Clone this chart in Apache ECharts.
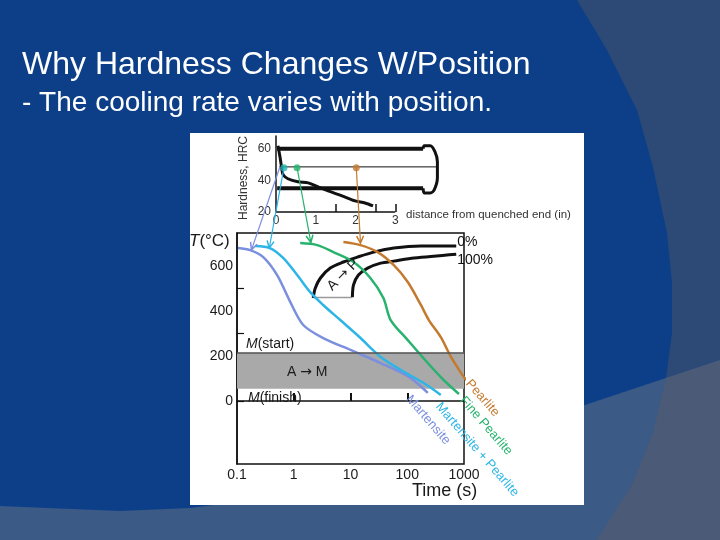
<!DOCTYPE html>
<html>
<head>
<meta charset="utf-8">
<script src="https://cdn.jsdelivr.net/npm/echarts@6/dist/echarts.min.js"></script>
<style>
html, body { margin: 0; padding: 0; background: #0c3f88; }
#main { width: 720px; height: 540px; }
</style>
</head>
<body>
<div id="main"></div>
<script>
// ---- cooling curves, [time (s), temperature (°C)] ----
const coolMartensite = [[0.104, 680], [0.17, 671], [0.29, 640], [0.51, 560], [0.87, 440], [1.47, 338], [3.3, 280], [10, 227], [34, 169], [115, 102], [230, 36]]
const coolMartPearlite = [[0.21, 689], [0.38, 680], [0.65, 636], [1.15, 560], [1.95, 484], [3.3, 427], [6.6, 360], [15, 280], [34, 196], [77, 138], [195, 80], [390, 27]]
const coolFinePearlite = [[1.3, 702], [2.6, 693], [5, 662], [11.3, 618], [22.4, 547], [38, 458], [51, 360], [102, 271], [230, 169], [440, 93], [815, 31]]
const coolPearlite = [[7.5, 707], [15, 693], [30, 662], [58, 604], [102, 529], [174, 427], [240, 360], [390, 284], [590, 196], [890, 124], [1090, 93]]

// ---- A -> P transformation start (0%) and finish (100%) ----
const pearliteStart = [[2.2, 458], [2.4, 502], [2.95, 547], [4.4, 591], [7.5, 618], [13.3, 640], [25.6, 662], [58, 680], [174, 689], [730, 689]]
const pearliteFinish = [[10.8, 462], [11.3, 516], [13.8, 560], [20, 591], [34, 613], [58, 622], [132, 636], [730, 653]]
const noseBase = [[2.2, 460], [10.8, 460]]
const martensiteBand = [55, 215]   // M(finish) .. M(start)

// ---- axis ticks / labels ----
const timeLabels = [0.1, 1, 10, 100, 1000]
const timeTicks = [1, 10, 100]
const tempLabels = [0, 200, 400, 600]
const tempTicks = [0, 300, 500]
const distLabels = [0, 1, 2, 3]
const distTicks = [1.5, 2.5, 3]
const hrcLabels = [20, 40, 60]
const distSpan = [0, 3]

// ---- Jominy inset, [distance (in), hardness HRC] ----
const hardness = [[0.05, 61.9], [0.10, 54.9], [0.15, 46.7], [0.18, 43.5], [0.30, 41.0], [0.55, 39.1], [0.81, 38.4], [1.06, 35.9], [1.31, 33.3], [1.66, 30.2], [1.99, 27.0], [2.24, 25.7], [2.44, 23.8]]
const barTop = [[0.03, 60], [3.70, 60]]
const barBottom = [[0.03, 35], [3.70, 35]]
const barAxis = [[0.08, 48.5], [4.05, 48.5]]
const barCap = [[3.70, 60], [3.73, 61.9], [3.88, 61.9], [4.0, 58], [4.06, 51.7], [4.06, 41.6], [3.98, 34], [3.88, 32], [3.73, 32], [3.70, 35]]
const probePoints = [[0.2, 48], [0.53, 48], [2.02, 48]]

// pointers: inset position -> start of cooling curve
const pointerFrom = [[0.1, 48.6], [0.2, 48], [0.53, 48], [2.02, 48]]
const pointerTo = [[0.18, 672], [0.37, 680], [2.0, 705], [15, 702]]

const FONT = '"Liberation Sans", Arial, sans-serif'
const C_BLUE = '#7b8fdf'
const C_CYAN = '#2db5e6'
const C_GREEN = '#27b36e'
const C_ORANGE = '#c47a2e'
const C_TEAL = '#22b4a8'
const pointerColors = [C_BLUE, C_CYAN, C_GREEN, C_ORANGE]

function endLabel (text, color, offset) {
  return {
    show: true, formatter: text, position: 'right', distance: 2, rotate: -49,
    align: 'left', verticalAlign: 'middle', color: color, fontSize: 13, fontFamily: FONT, offset: offset || [0, 0]
  }
}
function labelLast (data, label) {
  return data.map((p, i) => i === data.length - 1 ? { value: p, label: label } : { value: p })
}
function curve (data, color, width, label, grid, smooth) {
  return {
    type: 'line', xAxisIndex: grid || 0, yAxisIndex: grid || 0,
    data: label ? labelLast(data, label) : data,
    smooth: smooth === undefined ? 0.3 : smooth, showSymbol: true, symbol: 'circle', symbolSize: 0,
    lineStyle: { color: color, width: width }, itemStyle: { color: color },
    clip: false, silent: true, z: 3
  }
}

const chart = echarts.init(document.getElementById('main'))

chart.setOption({
  animation: false,
  backgroundColor: '#0c3f88',
  grid: [
    { left: 237, top: 233, width: 227, height: 231, show: true, borderColor: '#111', borderWidth: 1.5, backgroundColor: 'transparent' },
    { left: 276, top: 136, width: 163, height: 76 }
  ],
  xAxis: [
    {
      type: 'log', logBase: 10, min: 0.1, max: 1000, gridIndex: 0,
      axisLine: { lineStyle: { color: '#111', width: 1.5 } },
      axisTick: { show: true, inside: true, length: 8, customValues: timeTicks, lineStyle: { color: '#111', width: 2 } },
      axisLabel: { customValues: timeLabels, color: '#1a1a1a', fontSize: 14, fontFamily: FONT, margin: 4, formatter: v => String(+(+v).toPrecision(3)) },
      splitLine: { show: false }
    },
    {
      // room past 3 in for the rounded end of the specimen
      type: 'value', min: 0, max: 4.1, gridIndex: 1,
      axisLine: { show: false },
      axisTick: { show: true, inside: true, length: 8, customValues: distTicks, lineStyle: { color: '#111', width: 1.5 } },
      axisLabel: { customValues: distLabels, color: '#333', fontSize: 12, fontFamily: FONT, margin: 3 },
      splitLine: { show: false }
    }
  ],
  yAxis: [
    {
      type: 'value', min: -280, max: 747, gridIndex: 0,
      axisLine: { show: true, lineStyle: { color: '#111', width: 1.5 } },
      axisTick: { show: true, inside: true, length: 7, customValues: tempTicks, lineStyle: { color: '#111', width: 1.2 } },
      axisLabel: { customValues: tempLabels, color: '#1a1a1a', fontSize: 14, fontFamily: FONT, margin: 4 },
      splitLine: { show: false }
    },
    {
      type: 'value', min: 20, max: 68, gridIndex: 1,
      axisLine: { show: true, lineStyle: { color: '#111', width: 1.5 } },
      axisTick: { show: false },
      axisLabel: { customValues: hrcLabels, color: '#333', fontSize: 12, fontFamily: FONT, margin: 5 },
      splitLine: { show: false }
    }
  ],
  series: [
    {
      type: 'line', xAxisIndex: 0, yAxisIndex: 0, data: [], z: 1, silent: true,
      markArea: { silent: true, itemStyle: { color: '#a9a9a9' }, data: [[{ yAxis: martensiteBand[0] }, { yAxis: martensiteBand[1] }]] },
      markLine: { silent: true, symbol: 'none', label: { show: false }, lineStyle: { color: '#555', width: 1.5, type: 'solid' }, data: [{ yAxis: martensiteBand[1] }] }
    },
    curve(noseBase, '#9a9a9a', 1.5),
    curve(pearliteStart, '#111', 3, { show: true, formatter: '0%', position: 'right', distance: 1, offset: [0, -4], color: '#111', fontSize: 14, fontFamily: FONT }),
    curve(pearliteFinish, '#111', 3, { show: true, formatter: '100%', position: 'right', distance: 1, offset: [0, 6], color: '#111', fontSize: 14, fontFamily: FONT }),
    curve(coolMartensite, C_BLUE, 2.5, endLabel('Martensite', C_BLUE, [-11, 19])),
    curve(coolMartPearlite, C_CYAN, 2.5, endLabel('Martensite + Pearlite', C_CYAN, [4, 10])),
    curve(coolFinePearlite, C_GREEN, 2.5, endLabel('Fine Pearlite', C_GREEN, [4, 2])),
    curve(coolPearlite, C_ORANGE, 2.5, endLabel('Pearlite', C_ORANGE, [1, 1])),
    // Jominy inset
    curve(distSpan.map(d => [d, 20]), '#111', 1.5, null, 1, false),
    curve(barTop, '#111', 4, null, 1, false),
    curve(barBottom, '#111', 4, null, 1, false),
    curve(barAxis, '#111', 1, null, 1, false),
    curve(barCap, '#111', 3, null, 1),
    curve(hardness, '#111', 3, null, 1),
    {
      type: 'scatter', xAxisIndex: 1, yAxisIndex: 1, symbolSize: 7, silent: true, z: 5,
      data: probePoints.map((p, i) => ({ value: p, itemStyle: { color: [C_TEAL, C_GREEN, C_ORANGE][i] } }))
    }
  ]
})

// pointer lines with open arrow heads, positioned through the two grids
const pointers = []
pointerFrom.forEach((s, i) => {
  const a = chart.convertToPixel({ gridIndex: 1 }, s)
  const b = chart.convertToPixel({ gridIndex: 0 }, pointerTo[i])
  const dx = b[0] - a[0]
  const dy = b[1] - a[1]
  const L = Math.hypot(dx, dy)
  const bx = -dx / L
  const by = -dy / L
  const head = ang => [b[0] + 8 * (bx * Math.cos(ang) - by * Math.sin(ang)), b[1] + 8 * (bx * Math.sin(ang) + by * Math.cos(ang))]
  const col = pointerColors[i]
  pointers.push({ type: 'line', z: 50, shape: { x1: a[0], y1: a[1], x2: b[0], y2: b[1] }, style: { stroke: col, lineWidth: 1.2 } })
  pointers.push({ type: 'polyline', z: 50, shape: { points: [head(0.45), b, head(-0.45)] }, style: { stroke: col, lineWidth: 1.5, fill: null } })
})

// free text; x/y is the anchor, rotation in radians (counter-clockwise)
function txt (text, x, y, size, opts) {
  opts = opts || {}
  const style = { text: text, x: 0, y: 0, fill: opts.fill || '#1a1a1a', fontSize: size, fontFamily: FONT, verticalAlign: 'middle', align: opts.align || 'left' }
  if (opts.rich) style.rich = opts.rich
  return { type: 'text', z: 60, x: x, y: y, rotation: opts.rotation || 0, style: style }
}
const ital = size => ({
  i: { fontStyle: 'italic', fontSize: size, fontFamily: FONT, fill: '#1a1a1a' },
  n: { fontSize: size, fontFamily: FONT, fill: '#1a1a1a' },
  a: { fontSize: size, fontFamily: '"DejaVu Sans", sans-serif', fill: '#1a1a1a' }
})

chart.setOption({
  graphic: {
    elements: [
      // slide decoration
      { type: 'polygon', z: -20, shape: { points: [[577, 0], [607, 50], [637, 110], [653, 167], [667, 233], [672, 283], [672, 333], [666, 378], [720, 360], [720, 0]] }, style: { fill: '#2d4a77' } },
      { type: 'polygon', z: -20, shape: { points: [[720, 360], [666, 378], [540, 420], [400, 466], [300, 494], [190, 508], [120, 511], [0, 506], [0, 540], [720, 540]] }, style: { fill: '#3c5a86' } },
      { type: 'polygon', z: -19, shape: { points: [[720, 360], [666, 378], [653, 433], [633, 483], [597, 540], [720, 540]] }, style: { fill: '#4a5a77' } },
      { type: 'rect', z: -18, shape: { x: 190, y: 133, width: 394, height: 372 }, style: { fill: '#ffffff' } },
      // slide text
      txt('Why Hardness Changes W/Position', 22, 65, 32, { fill: '#ffffff' }),
      txt('- The cooling rate varies with position.', 22, 103, 28, { fill: '#ffffff' }),
      // chart annotations
      txt('{i|T}{n|(°C)}', 189, 241, 17, { rich: ital(17) }),
      txt('Time (s)', 412, 491, 18),
      txt('{i|M}{n|(start)}', 246, 344, 14, { rich: ital(14) }),
      txt('{i|M}{n|(finish)}', 248, 398, 14, { rich: ital(14) }),
      txt('{n|A }{a|→}{n| M}', 287, 372, 14, { rich: ital(14) }),
      txt('{n|A }{a|→}{n| P}', 343, 275, 14, { align: 'center', rotation: Math.PI / 4, rich: ital(14) }),
      txt('Hardness, HRC', 244, 178, 12, { align: 'center', rotation: Math.PI / 2, fill: '#333' }),
      txt('distance from quenched end (in)', 406, 215, 11.5, { fill: '#333' })
    ].concat(pointers)
  }
})
</script>
</body>
</html>
